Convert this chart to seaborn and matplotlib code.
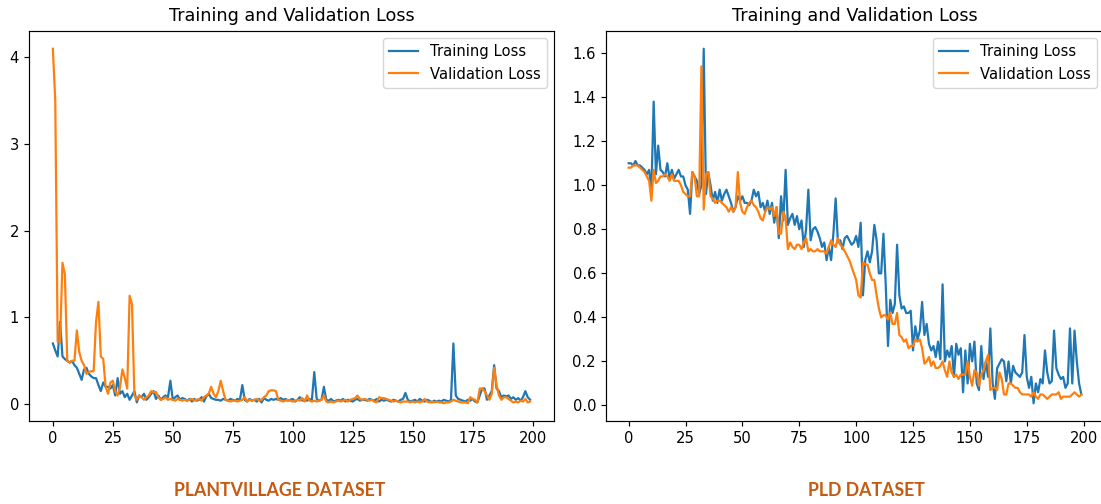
import numpy as np
import pandas as pd
import seaborn as sns
import matplotlib
matplotlib.use("Agg")
import matplotlib.pyplot as plt

epochs = list(range(200))

pv_train = [
    0.70, 0.62, 0.55, 0.95, 0.55, 0.52, 0.50, 0.48, 0.50, 0.45,
    0.42, 0.35, 0.28, 0.40, 0.42, 0.35, 0.32, 0.30, 0.30, 0.22,
    0.15, 0.25, 0.20, 0.20, 0.18, 0.22, 0.10, 0.30, 0.12, 0.15,
    0.08, 0.12, 0.05, 0.10, 0.15, 0.02, 0.10, 0.08, 0.12, 0.05,
    0.08, 0.12, 0.15, 0.06, 0.10, 0.05, 0.08, 0.10, 0.08, 0.27,
    0.05, 0.08, 0.10, 0.05, 0.07, 0.06, 0.04, 0.06, 0.03, 0.06,
    0.04, 0.05, 0.08, 0.03, 0.09, 0.12, 0.07, 0.06, 0.05, 0.05,
    0.04, 0.06, 0.05, 0.04, 0.06, 0.05, 0.04, 0.06, 0.05, 0.22,
    0.05, 0.03, 0.06, 0.04, 0.05, 0.03, 0.06, 0.02, 0.07, 0.05,
    0.04, 0.06, 0.05, 0.06, 0.05, 0.07, 0.05, 0.06, 0.04, 0.05,
    0.06, 0.03, 0.05, 0.08, 0.04, 0.05, 0.04, 0.06, 0.05, 0.37,
    0.06, 0.04, 0.05, 0.20, 0.05, 0.04, 0.06, 0.03, 0.04, 0.05,
    0.04, 0.06, 0.03, 0.05, 0.04, 0.03, 0.05, 0.06, 0.04, 0.05,
    0.05, 0.04, 0.06, 0.05, 0.04, 0.06, 0.03, 0.05, 0.04, 0.05,
    0.04, 0.03, 0.05, 0.04, 0.03, 0.05, 0.06, 0.13, 0.05, 0.03,
    0.04, 0.05, 0.03, 0.06, 0.04, 0.03, 0.05, 0.04, 0.02, 0.04,
    0.03, 0.04, 0.03, 0.05, 0.04, 0.03, 0.05, 0.70, 0.10, 0.06,
    0.05, 0.04, 0.03, 0.05, 0.04, 0.06, 0.03, 0.02, 0.10, 0.18,
    0.18, 0.05, 0.10, 0.15, 0.45, 0.18, 0.15, 0.08, 0.10, 0.09,
    0.10, 0.06, 0.08, 0.05, 0.07, 0.04, 0.08, 0.15, 0.08, 0.05,
]

pv_val = [
    4.10, 3.50, 0.72, 0.72, 1.63, 1.50, 0.50, 0.48, 0.50, 0.50,
    0.85, 0.60, 0.50, 0.45, 0.35, 0.37, 0.38, 0.38, 0.95, 1.18,
    0.55, 0.52, 0.20, 0.12, 0.25, 0.27, 0.15, 0.10, 0.20, 0.40,
    0.30, 0.18, 1.25, 1.15, 0.10, 0.05, 0.10, 0.08, 0.05, 0.08,
    0.10, 0.15, 0.14, 0.14, 0.08, 0.05, 0.06, 0.08, 0.05, 0.06,
    0.05, 0.04, 0.06, 0.05, 0.04, 0.05, 0.04, 0.05, 0.06, 0.04,
    0.05, 0.06, 0.04, 0.08, 0.10, 0.12, 0.20, 0.12, 0.08, 0.15,
    0.27, 0.15, 0.05, 0.04, 0.03, 0.04, 0.04, 0.03, 0.04, 0.05,
    0.08, 0.03, 0.05, 0.04, 0.05, 0.06, 0.04, 0.05, 0.08, 0.10,
    0.15, 0.16, 0.16, 0.15, 0.05, 0.04, 0.03, 0.04, 0.05, 0.04,
    0.03, 0.04, 0.05, 0.04, 0.07, 0.03, 0.10, 0.04, 0.03, 0.04,
    0.03, 0.04, 0.05, 0.10, 0.03, 0.02, 0.03, 0.02, 0.03, 0.04,
    0.03, 0.04, 0.05, 0.03, 0.05, 0.06, 0.07, 0.10, 0.06, 0.05,
    0.06, 0.05, 0.04, 0.05, 0.03, 0.02, 0.08, 0.07, 0.07, 0.06,
    0.05, 0.04, 0.03, 0.04, 0.03, 0.02, 0.03, 0.03, 0.03, 0.02,
    0.03, 0.02, 0.03, 0.02, 0.03, 0.06, 0.03, 0.02, 0.03, 0.02,
    0.03, 0.02, 0.02, 0.01, 0.02, 0.02, 0.03, 0.05, 0.04, 0.03,
    0.02, 0.02, 0.02, 0.01, 0.08, 0.06, 0.05, 0.02, 0.18, 0.18,
    0.15, 0.10, 0.05, 0.12, 0.42, 0.22, 0.10, 0.05, 0.08, 0.08,
    0.06, 0.04, 0.02, 0.03, 0.02, 0.04, 0.03, 0.06, 0.02, 0.03,
]

pld_train = [
    1.10, 1.10, 1.09, 1.11, 1.09, 1.09, 1.08, 1.07, 1.05, 1.07,
    0.97, 1.38, 1.05, 1.18, 1.07, 1.06, 1.04, 1.10, 1.03, 1.07,
    1.03, 1.05, 1.07, 1.04, 1.04, 1.00, 0.98, 0.87, 1.06, 1.04,
    1.02, 0.96, 1.00, 1.62, 0.96, 1.06, 1.00, 0.93, 0.97, 0.92,
    0.98, 0.93, 0.96, 0.98, 0.95, 0.92, 0.88, 0.90, 0.95, 0.93,
    0.95, 0.92, 0.92, 0.91, 0.93, 0.98, 0.95, 0.97, 0.90, 0.92,
    0.88, 0.93, 0.87, 0.92, 0.83, 0.90, 0.76, 0.95, 0.84, 1.07,
    0.82, 0.85, 0.87, 0.82, 0.86, 0.80, 0.84, 0.72, 0.80, 0.98,
    0.75, 0.80, 0.81, 0.79, 0.76, 0.72, 0.74, 0.66, 0.72, 0.66,
    0.78, 0.94, 0.74, 0.75, 0.71, 0.76, 0.77, 0.75, 0.73, 0.74,
    0.77, 0.72, 0.83, 0.50, 0.66, 0.70, 0.65, 0.70, 0.82, 0.75,
    0.60, 0.60, 0.78, 0.55, 0.27, 0.48, 0.42, 0.46, 0.73, 0.50,
    0.44, 0.45, 0.42, 0.42, 0.43, 0.25, 0.36, 0.30, 0.34, 0.47,
    0.32, 0.37, 0.28, 0.25, 0.27, 0.22, 0.29, 0.21, 0.55, 0.20,
    0.25, 0.22, 0.27, 0.13, 0.28, 0.23, 0.26, 0.06, 0.25, 0.10,
    0.28, 0.20, 0.29, 0.10, 0.07, 0.27, 0.12, 0.20, 0.13, 0.35,
    0.10, 0.03, 0.17, 0.19, 0.21, 0.20, 0.11, 0.20, 0.10, 0.18,
    0.15, 0.14, 0.13, 0.15, 0.32, 0.13, 0.08, 0.13, 0.01, 0.10,
    0.06, 0.12, 0.10, 0.25, 0.15, 0.10, 0.11, 0.34, 0.17, 0.14,
    0.12, 0.13, 0.08, 0.10, 0.35, 0.10, 0.34, 0.20, 0.10, 0.05,
]

pld_val = [
    1.08, 1.08, 1.09, 1.09, 1.09, 1.08, 1.07, 1.06, 1.04, 1.02,
    0.93, 1.07, 1.01, 1.02, 1.04, 1.04, 1.05, 1.04, 1.02, 1.05,
    1.02, 1.02, 1.02, 1.00, 0.97, 0.96, 0.95, 0.95, 1.06, 1.04,
    0.95, 0.95, 1.54, 0.89, 1.05, 1.06, 0.95, 0.94, 0.92, 0.93,
    0.93, 0.92, 0.91, 0.90, 0.88, 0.90, 0.88, 0.90, 1.06, 0.92,
    0.88, 0.87, 0.90, 0.92, 0.93, 0.91, 0.90, 0.88, 0.85, 0.84,
    0.88, 0.90, 0.89, 0.90, 0.86, 0.90, 0.78, 0.78, 0.88, 0.85,
    0.71, 0.74, 0.72, 0.71, 0.73, 0.73, 0.71, 0.74, 0.76, 0.70,
    0.71, 0.70, 0.70, 0.71, 0.70, 0.70, 0.70, 0.69, 0.72, 0.75,
    0.73, 0.72, 0.76, 0.73, 0.72, 0.70, 0.68, 0.66, 0.63, 0.60,
    0.57, 0.50, 0.49, 0.65, 0.64, 0.64, 0.60, 0.57, 0.57, 0.50,
    0.44, 0.40, 0.41, 0.41, 0.39, 0.42, 0.37, 0.37, 0.42, 0.32,
    0.31, 0.29, 0.30, 0.26, 0.27, 0.27, 0.30, 0.29, 0.30, 0.26,
    0.19, 0.20, 0.22, 0.18, 0.20, 0.17, 0.17, 0.18, 0.20, 0.16,
    0.13, 0.20, 0.15, 0.13, 0.14, 0.12, 0.14, 0.14, 0.14, 0.20,
    0.13, 0.09, 0.16, 0.15, 0.09, 0.14, 0.16, 0.20, 0.23, 0.07,
    0.08, 0.08, 0.07, 0.15, 0.12, 0.05, 0.05, 0.10, 0.10, 0.09,
    0.08, 0.08, 0.06, 0.05, 0.05, 0.05, 0.05, 0.04, 0.06, 0.04,
    0.03, 0.05, 0.05, 0.04, 0.03, 0.04, 0.05, 0.05, 0.05, 0.06,
    0.03, 0.04, 0.04, 0.04, 0.04, 0.05, 0.06, 0.05, 0.04, 0.05,
]

panel_titles = ["Training and Validation Loss", "Training and Validation Loss"]
dataset_labels = ["PLANTVILLAGE DATASET", "PLD DATASET"]
series_names = ["Training Loss", "Validation Loss"]

fig = plt.figure(figsize=(11.01, 5.04), dpi=100)
ax1 = fig.add_axes([29 / 1101, 83 / 504, 525 / 1101, 390 / 504])
ax2 = fig.add_axes([606 / 1101, 83 / 504, 498 / 1101, 390 / 504])

FS = 10.6
colors = ["#1f77b4", "#ff7f0e"]

for ax, tr, va, title in [(ax1, pv_train, pv_val, panel_titles[0]),
                           (ax2, pld_train, pld_val, panel_titles[1])]:
    df = pd.DataFrame({"epoch": epochs, series_names[0]: tr, series_names[1]: va})
    sns.lineplot(data=df, x="epoch", y=series_names[0], ax=ax, color=colors[0],
                 label=series_names[0], linewidth=1.6)
    sns.lineplot(data=df, x="epoch", y=series_names[1], ax=ax, color=colors[1],
                 label=series_names[1], linewidth=1.6)
    ax.set_xlabel("")
    ax.set_ylabel("")
    ax.set_title(title, fontsize=12.7, pad=7)
    ax.set_xticks([0, 25, 50, 75, 100, 125, 150, 175, 200])
    ax.tick_params(labelsize=FS, length=3.7, width=0.85)
    for s in ax.spines.values():
        s.set_linewidth(0.85)
    ax.legend(loc="upper right", fontsize=FS, handlelength=2.0)

ax1.set_yticks([0, 1, 2, 3, 4])
ax2.set_yticks([0.0, 0.2, 0.4, 0.6, 0.8, 1.0, 1.2, 1.4, 1.6])
ax2.set_yticklabels(["0.0", "0.2", "0.4", "0.6", "0.8", "1.0", "1.2", "1.4", "1.6"])

fig.text(280 / 1101, 1 - 490 / 504, dataset_labels[0], ha="center", va="center",
         fontsize=12.8, fontweight="bold", color="#C55A11", family=["Lato", "DejaVu Sans"])
fig.text(866 / 1101, 1 - 490 / 504, dataset_labels[1], ha="center", va="center",
         fontsize=12.8, fontweight="bold", color="#C55A11", family=["Lato", "DejaVu Sans"])

fig.savefig("out.png", dpi=100)
